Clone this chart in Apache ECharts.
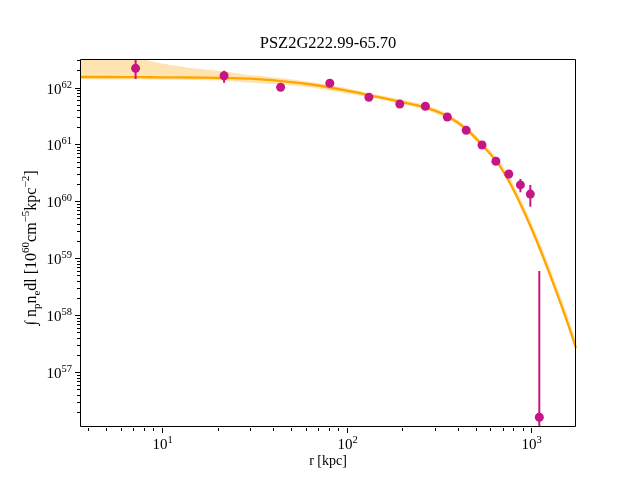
<!DOCTYPE html>
<html lang="en">
<head>
    <meta charset="UTF-8">
    <title>PSZ2G222.99-65.70</title>
    <script type="text/javascript" src="https://cdn.jsdelivr.net/npm/echarts@6/dist/echarts.min.js"></script>
    <style>
        html, body { margin: 0; padding: 0; background: #fff; }
        #main { width: 640px; height: 480px; }
    </style>
</head>
<body>
<div id="main"></div>
<script>
    // measured profile (r in kpc)
    var radius = [7.2, 21.7, 43.9, 81.1, 132, 194, 267, 351, 444, 541, 643, 755, 873, 988, 1105];
    var profile = [2.17e62, 1.61e62, 1.01e62, 1.19e62, 6.73e61, 5.13e61, 4.68e61, 3.03e61, 1.77e61, 9.77e60, 5.05e60, 3.02e60, 1.94e60, 1.34e60, 1.60e56];
    var errLow = [1.41e62, 1.21e62, 9.7e61, 1.14e62, 6.45e61, 4.92e61, 4.49e61, 2.91e61, 1.70e61, 9.4e60, 4.85e60, 2.53e60, 1.44e60, 8.04e59, 1e55];
    var errHigh = [3.04e62, 1.97e62, 1.05e62, 1.24e62, 7.0e61, 5.34e61, 4.87e61, 3.15e61, 1.84e61, 1.02e61, 5.25e60, 3.55e60, 2.47e60, 1.94e60, 5.96e58];

    // model curve and its band
    var modelR = [3.60, 5.24, 7.64, 10, 14.3, 20.8, 30.3, 44.2, 64.4, 82.8, 100, 131, 193, 266, 349, 442, 538, 640, 681, 771, 873, 988, 1117, 1313, 1563, 1746];
    var model = [1.53e62, 1.53e62, 1.52e62, 1.51e62, 1.50e62, 1.47e62, 1.43e62, 1.30e62, 1.13e62, 9.9e61, 8.85e61, 7.38e61, 5.67e61, 4.46e61, 3.16e61, 1.90e61, 9.95e60, 5.32e60, 4.01e60, 2.01e60, 8.96e59, 3.68e59, 1.42e59, 3.66e58, 7.71e57, 2.64e57];
    var bandHigh = [3.17e62, 3.17e62, 3.17e62, 2.64e62, 2.20e62, 1.96e62, 1.64e62, 1.47e62, 1.25e62, 1.08e62, 9.8e61, 8.0e61, 6.28e61, 5.03e61, 3.56e61, 2.15e61, 1.15e61, 6.25e60, 4.81e60, 2.52e60, 1.14e60, 4.69e59, 1.85e59, 4.86e58, 1.03e58, 3.51e57];
    var bandLow = [1.39e62, 1.38e62, 1.38e62, 1.37e62, 1.36e62, 1.33e62, 1.21e62, 1.13e62, 1.0e62, 8.67e61, 7.85e61, 6.81e61, 5.24e61, 4.10e61, 2.91e61, 1.75e61, 9.18e60, 4.91e60, 3.70e60, 1.86e60, 8.26e59, 3.40e59, 1.31e59, 3.38e58, 7.11e57, 2.44e57];

    // axes
    var xMin = 3.6, xMax = 1746;
    var yMin = 1.08e56, yMax = 3.17e62;
    var xTickValues = [10, 100, 1000];
    var xTickExps = ['1', '2', '3'];
    var yTickValues = [1e57, 1e58, 1e59, 1e60, 1e61, 1e62];
    var yTickExps = ['57', '58', '59', '60', '61', '62'];

    var serif = '"Liberation Serif", "DejaVu Serif", serif';
    var pink = '#C71585';
    var orange = '#FFA500';

    var tickRich = {
        b: {fontFamily: serif, fontSize: 15, lineHeight: 18, verticalAlign: 'bottom', color: '#000'},
        s: {fontFamily: serif, fontSize: 10.5, lineHeight: 10, verticalAlign: 'top', color: '#000'}
    };

    function buildTicks(majors, exps, lo, hi) {
        var ticks = [];
        for (var k = -1; k < 70; k++) {
            for (var m = 1; m < 10; m++) {
                var v = m * Math.pow(10, k);
                if (v < lo || v > hi) continue;
                var idx = -1;
                for (var j = 0; j < majors.length; j++) {
                    if (Math.abs(Math.log10(majors[j]) - Math.log10(v)) < 1e-9) idx = j;
                }
                ticks.push({v: v, major: idx >= 0, label: idx >= 0 ? exps[idx] : ''});
            }
        }
        return ticks;
    }
    var xTicks = buildTicks(xTickValues, xTickExps, xMin, xMax);
    var yTicks = buildTicks(yTickValues, yTickExps, yMin, yMax);

    function clipRect(params) {
        var cs = params.coordSys;
        return {type: 'rect', shape: {x: cs.x, y: cs.y, width: cs.width, height: cs.height}};
    }

    var chart = echarts.init(document.getElementById('main'));
    var option = {
        animation: false,
        backgroundColor: '#fff',
        grid: {left: 80, top: 59, width: 496, height: 368, show: false},
        xAxis: {
            type: 'log', logBase: 10, min: xMin, max: xMax,
            axisLine: {show: false}, axisTick: {show: false},
            axisLabel: {show: false}, splitLine: {show: false}
        },
        yAxis: {
            type: 'log', logBase: 10, min: yMin, max: yMax,
            axisLine: {show: false}, axisTick: {show: false},
            axisLabel: {show: false}, splitLine: {show: false}
        },
        graphic: [
            {
                type: 'rect', z: 100, silent: true,
                shape: {x: 80.5, y: 59.5, width: 495, height: 367},
                style: {fill: null, stroke: '#000', lineWidth: 1}
            },
            {
                type: 'text', x: 328, y: 44, z: 100, silent: true,
                style: {text: 'PSZ2G222.99-65.70', fontFamily: serif, fontSize: 16.5, fill: '#000', align: 'center', verticalAlign: 'middle'}
            },
            {
                type: 'text', x: 328, y: 461, z: 100, silent: true,
                style: {text: 'r [kpc]', fontFamily: serif, fontSize: 14, fill: '#000', align: 'center', verticalAlign: 'middle'}
            },
            {
                type: 'text', x: 32, y: 248, z: 100, silent: true, rotation: Math.PI / 2,
                style: {
                    text: '{b|\u222B n}{sub|p}{b|n}{sub|e}{b|dl [10}{sup|60}{b|cm}{sup|\u22125}{b|kpc}{sup|\u22122}{b|]}',
                    align: 'center', verticalAlign: 'middle',
                    rich: {
                        b: {fontFamily: serif, fontSize: 16, lineHeight: 22, verticalAlign: 'middle', color: '#000'},
                        sub: {fontFamily: serif, fontSize: 11, lineHeight: 11, verticalAlign: 'bottom', color: '#000'},
                        sup: {fontFamily: serif, fontSize: 11, lineHeight: 11, verticalAlign: 'top', color: '#000'}
                    }
                }
            }
        ],
        series: [
            {
                // uncertainty band of the model
                type: 'custom', coordinateSystem: 'cartesian2d', silent: true, z: 1,
                data: [[xMin, yMin]],
                renderItem: function (params, api) {
                    var pts = [];
                    for (var i = 0; i < modelR.length; i++) pts.push(api.coord([modelR[i], bandHigh[i]]));
                    for (var j = modelR.length - 1; j >= 0; j--) pts.push(api.coord([modelR[j], bandLow[j]]));
                    return {
                        type: 'polygon', shape: {points: pts},
                        style: {fill: 'rgba(255,165,0,0.3)', stroke: null},
                        clipPath: clipRect(params)
                    };
                }
            },
            {
                type: 'line', z: 2, silent: true,
                data: modelR.map(function (r, i) { return [r, model[i]]; }),
                showSymbol: false, smooth: 0.3,
                lineStyle: {color: orange, width: 2.3}
            },
            {
                // error bars
                type: 'custom', coordinateSystem: 'cartesian2d', silent: true, z: 3,
                data: radius.map(function (r, i) { return [r, profile[i]]; }),
                renderItem: function (params, api) {
                    var i = params.dataIndex;
                    var top = api.coord([radius[i], errHigh[i]]);
                    var bot = api.coord([radius[i], Math.max(errLow[i], yMin)]);
                    return {
                        type: 'line',
                        shape: {x1: top[0], y1: top[1], x2: bot[0], y2: bot[1]},
                        style: {stroke: pink, lineWidth: 2},
                        clipPath: clipRect(params)
                    };
                }
            },
            {
                type: 'scatter', z: 4, silent: true,
                data: radius.map(function (r, i) { return [r, profile[i]]; }),
                symbol: 'circle', symbolSize: 9,
                itemStyle: {color: pink, opacity: 1}
            },
            {
                // x ticks and labels
                type: 'custom', coordinateSystem: 'cartesian2d', silent: true, clip: false, z: 10,
                data: xTicks.map(function (t) { return [t.v, yMin]; }),
                renderItem: function (params, api) {
                    var t = xTicks[params.dataIndex];
                    var p = api.coord([t.v, yMin]);
                    var x = Math.round(p[0]) + 0.5, y = Math.round(p[1]) + 1;
                    var len = t.major ? 5 : 3;
                    var kids = [{type: 'line', shape: {x1: x, y1: y, x2: x, y2: y + len}, style: {stroke: '#000', lineWidth: 1}}];
                    if (t.major) {
                        kids.push({
                            type: 'text', x: x, y: y + 7,
                            style: {text: '{b|10}{s|' + t.label + '}', rich: tickRich, align: 'center', verticalAlign: 'top'}
                        });
                    }
                    return {type: 'group', children: kids};
                }
            },
            {
                // y ticks and labels
                type: 'custom', coordinateSystem: 'cartesian2d', silent: true, clip: false, z: 10,
                data: yTicks.map(function (t) { return [xMin, t.v]; }),
                renderItem: function (params, api) {
                    var t = yTicks[params.dataIndex];
                    var p = api.coord([xMin, t.v]);
                    var x = Math.round(p[0]), y = Math.round(p[1]) + 0.5;
                    var len = t.major ? 5 : 3;
                    var kids = [{type: 'line', shape: {x1: x, y1: y, x2: x - len, y2: y}, style: {stroke: '#000', lineWidth: 1}}];
                    if (t.major) {
                        kids.push({
                            type: 'text', x: x - 8, y: y,
                            style: {text: '{b|10}{s|' + t.label + '}', rich: tickRich, align: 'right', verticalAlign: 'middle'}
                        });
                    }
                    return {type: 'group', children: kids};
                }
            }
        ]
    };
    chart.setOption(option);
</script>
</body>
</html>
